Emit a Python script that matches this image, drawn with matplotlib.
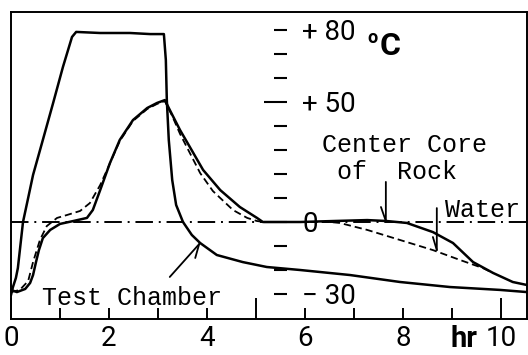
import matplotlib
matplotlib.use("Agg")
import matplotlib.pyplot as plt

plt.rcParams['font.family'] = ['Roboto', 'DejaVu Sans']

# ---- data (hours, degrees C) ----
chamber_hr = [0, 0.04, 0.10, 0.14, 0.245, 0.35, 0.45, 0.65, 0.86, 1.06, 1.245, 1.33, 1.82, 2.43, 2.84, 3.12,
              3.16, 3.18, 3.22, 3.29, 3.37, 3.51, 3.69, 3.86, 4.20, 4.73, 5.22, 5.90, 6.92, 7.94, 8.96, 9.98, 10.53]
chamber_t = [-30.4, -27.1, -23.3, -19.2, 0, 10.0, 19.6, 34.2, 49.6, 64.6, 77.1, 79.2, 78.75, 78.75, 78.3, 78.3,
             67.5, 50.8, 34.2, 17.5, 7.1, 0, -5.4, -8.75, -13.75, -16.7, -18.75, -20, -22.1, -25, -27.1, -28.3, -29.2]

core_hr = [0, 0.12, 0.29, 0.39, 0.45, 0.51, 0.57, 0.65, 0.80, 1.00, 1.27, 1.55, 1.67, 1.82, 2.02, 2.22, 2.49,
           2.78, 2.98, 3.14, 3.24, 3.45, 3.65, 3.92, 4.27, 4.67, 5.02, 5.14, 5.90, 6.57, 7.27, 7.67, 8.08, 8.61,
           9.02, 9.43, 9.84, 10.24, 10.53]
core_t = [-28.3, -29.2, -27.9, -25.4, -22.1, -16.7, -11.7, -6.7, -3.3, -0.8, 0.4, 1.7, 5.0, 13.3, 24.6, 34.2, 42.5,
          47.5, 49.6, 50.8, 46.7, 38.3, 31.25, 21.7, 13.3, 6.25, 1.7, 0, 0, 0.4, 0.8, 0.4, -0.4, -4.2,
          -8.75, -16.7, -21.25, -25, -26.25]

water_hr = [0, 0.18, 0.35, 0.45, 0.59, 0.73, 0.94, 1.14, 1.41, 1.61, 1.82, 1.96, 2.12, 2.22, 2.49, 2.78, 2.98,
            3.14, 3.29, 3.45, 3.65, 3.86, 4.12, 4.27, 4.53, 4.82, 5.02, 5.18, 6.51, 6.71, 7.27, 7.94, 8.61,
            9.16, 9.63, 9.84]
water_t = [-29.2, -28.3, -24.6, -16.7, -7.5, -1.7, 1.7, 2.9, 4.6, 7.9, 15.4, 21.7, 29.2, 33.75, 42.1, 47.1, 49.2,
           50.4, 44.2, 36.7, 28.75, 20.4, 12.9, 10, 5, 1.7, 0.4, 0, 0, -0.4, -3.3, -7.5, -11.7,
           -15.8, -19.2, -21.25]

x_major = [0, 5, 10]
x_major_labels = ['0', '', '10']
x_minor = [1, 2, 3, 4, 6, 7, 8, 9]
x_minor_labels = ['', '2', '', '4', '6', '', '8', '']
t_major = [0, 50]
t_major_labels = ['0', '+ 50']
t_minor = [-30, -20, -10, 10, 20, 30, 40, 60, 70, 80]
t_minor_labels = ['\u2212 30', '', '', '', '', '', '', '', '', '+ 80']

# ---- figure ----
fig = plt.figure(figsize=(5.28, 3.55), dpi=100)
W, H = 528, 355
ax = fig.add_axes([11 / W, 1 - 319 / H, 516 / W, 307 / H])
xlim = (0, 516 / 49)
ylim = ((222 - 319) / 2.4, (222 - 12) / 2.4)
ax.set_xlim(*xlim)
ax.set_ylim(*ylim)

lw = 1.8
ax.axhline(0, color='black', lw=1.4, linestyle=(0, (9, 3, 1, 3)), zorder=1)
ax.plot(chamber_hr, chamber_t, color='black', lw=lw, solid_joinstyle='round', zorder=3)
ax.plot(core_hr, core_t, color='black', lw=lw, solid_joinstyle='round', zorder=3)
ax.plot(water_hr, water_t, color='black', lw=1.3, linestyle=(0, (4, 2.2)), zorder=2)

for s in ax.spines.values():
    s.set_linewidth(1.4)

ax.set_yticks([])
ax.set_xticks(x_major, labels=x_major_labels)
ax.set_xticks(x_minor, labels=x_minor_labels, minor=True)
ax.tick_params(axis='x', which='both', direction='in', width=1.4, labelsize=20, pad=4)
ax.tick_params(axis='x', which='major', length=15)
ax.tick_params(axis='x', which='minor', length=8)
ax.set_xlabel('hr', fontsize=21, fontweight='bold')
ax.xaxis.label.set_va('bottom')
ax.xaxis.set_label_coords(0.878, -0.112)

# temperature scale in the middle of the plot
ax2 = ax.twinx()
ax2.set_ylim(*ylim)
for s in ax2.spines.values():
    s.set_visible(False)
ax2.spines['right'].set_position(('data', 276 / 49))
ax2.yaxis.set_ticks_position('right')
ax2.set_yticks(t_major, labels=t_major_labels)
ax2.set_yticks(t_minor, labels=t_minor_labels, minor=True)
ax2.tick_params(axis='y', which='both', direction='in', width=1.5, labelsize=20, pad=11)
ax2.tick_params(axis='y', which='major', length=16.5)
ax2.tick_params(axis='y', which='minor', length=9.3)

# unit
ax.text(367 / 49 - 11 / 49, (222 - 38) / 2.4, 'o', fontsize=13, fontweight='bold', ha='left', va='center')
ax.text(380 / 49 - 11 / 49, (222 - 46) / 2.4, 'C', fontsize=23, fontweight='bold', ha='left', va='center')

mono = ['Liberation Mono', 'DejaVu Sans Mono']
ax.text(0.63, -31.7, 'Test Chamber', family=mono, fontsize=18, ha='left', va='center')
ax.text(6.35, 32, 'Center Core', family=mono, fontsize=18, ha='left', va='center')
ax.text(6.65, 20.8, 'of  Rock', family=mono, fontsize=18, ha='left', va='center')
ax.text(8.86, 5, 'Water', family=mono, fontsize=18, ha='left', va='center')

# arrows
ap = dict(arrowstyle='-', color='black', lw=1.3, shrinkA=0, shrinkB=0)
for tail, tip, barb in [((7.65, 16.7), (7.65, 0.4), (7.55, 6.25)),
                        ((8.69, 5.8), (8.69, -11.7), (8.61, -6.25)),
                        ((3.24, -22.9), (3.84, -9.2), (3.76, -15))]:
    ax.annotate('', xy=tip, xytext=tail, arrowprops=ap)
    ax.annotate('', xy=tip, xytext=barb, arrowprops=ap)

fig.savefig('out.png', dpi=100)
